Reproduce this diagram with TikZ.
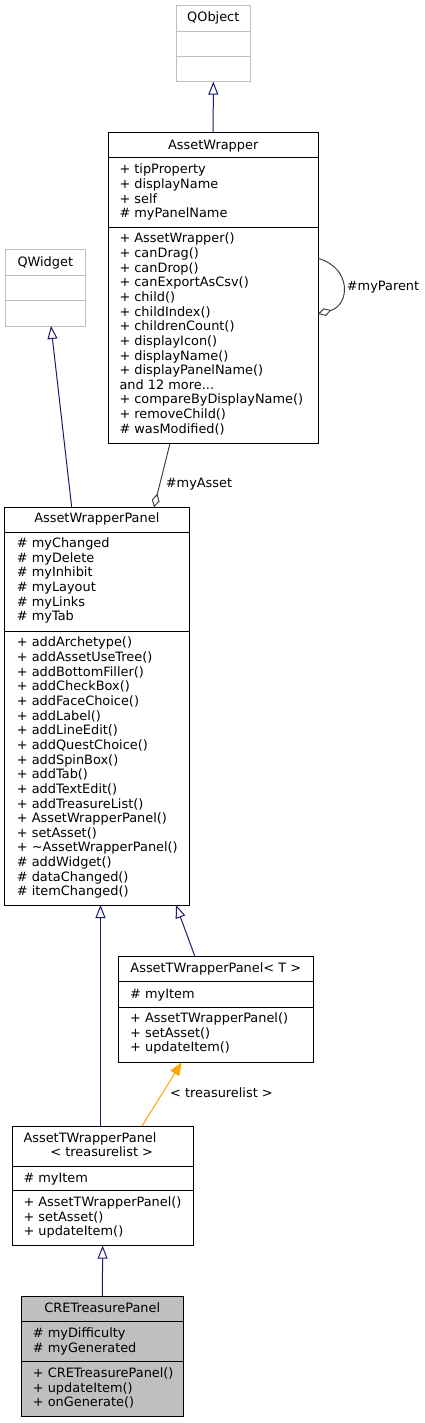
\documentclass[tikz,border=0pt]{standalone}
\usepackage{fontspec}
\setmainfont{DejaVu Sans}
\usetikzlibrary{arrows.meta,positioning,calc}
\definecolor{EdgeNavy}{HTML}{191970}
\definecolor{EdgeGray}{HTML}{404040}
\definecolor{EdgeOrange}{HTML}{FFA500}
\definecolor{BoxGray}{HTML}{BFBFBF}
\tikzset{
  classbox/.style={draw=black, line width=1pt, fill=white, anchor=north west,
    inner sep=0pt, outer sep=0pt},
  extbox/.style={classbox, draw=BoxGray},
  curbox/.style={classbox, fill=BoxGray},
  classrule/.style={line width=1pt, black},
  extrule/.style={line width=1pt, BoxGray},
  titletext/.style={anchor=base, inner sep=0pt, font=\fontsize{12.9}{14.64}\selectfont},
  membertext/.style={anchor=north west, yshift=10.25pt, align=left, inner sep=0pt,
    font=\fontsize{12.9}{14.64}\selectfont, execute at begin node=\strut},
  edgelabel/.style={anchor=west, inner sep=0pt, font=\fontsize{12.9}{14.64}\selectfont},
  inheritarrow/.style={-{Triangle[open, length=13pt, width=10pt]}, line width=1pt, EdgeNavy},
  aggrarrow/.style={-{Diamond[open, length=14pt, width=8pt]}, line width=1pt, EdgeGray},
  templarrow/.style={-{Triangle[length=13pt, width=10pt]}, line width=1pt, EdgeOrange},
}
\begin{document}
\begin{tikzpicture}[x=1pt, y=-1pt]
  \useasboundingbox (0,0) rectangle (425,1423);
  % ---- QObject ----
  \node[extbox, minimum width=74.7pt, minimum height=76pt] (qobj) at (176,5.7) {};
  \draw[extrule] (qobj.west |- 0,31.7) -- (qobj.east |- 0,31.7);
  \draw[extrule] (qobj.west |- 0,56.7) -- (qobj.east |- 0,56.7);
  \node[titletext] (qobjT) at (213.3,22) {QObject};
  % ---- AssetWrapper ----
  \node[classbox, minimum width=209.7pt, minimum height=310.6pt] (aw) at (108.3,132.7) {};
  \draw[classrule] (aw.west |- 0,158) -- (aw.east |- 0,158);
  \draw[classrule] (aw.west |- 0,227.3) -- (aw.east |- 0,227.3);
  \node[titletext] (awT) at (213.2,149.2) {AssetWrapper};
  \node[membertext] (awA) at (119.3,174.2) {+ tipProperty\\+ displayName\\+ self\\\# myPanelName};
  \node[membertext] (awM) at (119.3,243.2) {+ AssetWrapper()\\+ canDrag()\\+ canDrop()\\+ canExportAsCsv()\\+ child()\\+ childIndex()\\+ childrenCount()\\+ displayIcon()\\+ displayName()\\+ displayPanelName()\\and 12 more...\\+ compareByDisplayName()\\+ removeChild()\\\# wasModified()};
  % ---- QWidget ----
  \node[extbox, minimum width=79.3pt, minimum height=76.7pt] (qw) at (5.7,249.3) {};
  \draw[extrule] (qw.west |- 0,275) -- (qw.east |- 0,275);
  \draw[extrule] (qw.west |- 0,300.7) -- (qw.east |- 0,300.7);
  \node[titletext] (qwT) at (45.3,266.2) {QWidget};
  % ---- AssetWrapperPanel ----
  \node[classbox, minimum width=185pt, minimum height=397.7pt] (awp) at (4.3,507.3) {};
  \draw[classrule] (awp.west |- 0,532.7) -- (awp.east |- 0,532.7);
  \draw[classrule] (awp.west |- 0,631.7) -- (awp.east |- 0,631.7);
  \node[titletext] (awpT) at (96.8,522.8) {AssetWrapperPanel};
  \node[membertext] (awpA) at (16.7,547.8) {\# myChanged\\\# myDelete\\\# myInhibit\\\# myLayout\\\# myLinks\\\# myTab};
  \node[membertext] (awpM) at (16.7,647.2) {+ addArchetype()\\+ addAssetUseTree()\\+ addBottomFiller()\\+ addCheckBox()\\+ addFaceChoice()\\+ addLabel()\\+ addLineEdit()\\+ addQuestChoice()\\+ addSpinBox()\\+ addTab()\\+ addTextEdit()\\+ addTreasureList()\\+ AssetWrapperPanel()\\+ setAsset()\\+ \textasciitilde AssetWrapperPanel()\\\# addWidget()\\\# dataChanged()\\\# itemChanged()};
  % ---- AssetTWrapperPanel< T > ----
  \node[classbox, minimum width=195pt, minimum height=105.6pt] (atwpT) at (118.3,956.7) {};
  \draw[classrule] (atwpT.west |- 0,981.7) -- (atwpT.east |- 0,981.7);
  \draw[classrule] (atwpT.west |- 0,1007.3) -- (atwpT.east |- 0,1007.3);
  \node[titletext] (atwpTT) at (215.8,972.8) {AssetTWrapperPanel< T >};
  \node[membertext] (atwpTA) at (130,997.8) {\# myItem};
  \node[membertext] (atwpTM) at (130,1022.8) {+ AssetTWrapperPanel()\\+ setAsset()\\+ updateItem()};
  % ---- AssetTWrapperPanel< treasurelist > ----
  \node[classbox, minimum width=181.3pt, minimum height=119.7pt] (atwpTL) at (12,1126) {};
  \draw[classrule] (atwpTL.west |- 0,1166) -- (atwpTL.east |- 0,1166);
  \draw[classrule] (atwpTL.west |- 0,1190.7) -- (atwpTL.east |- 0,1190.7);
  \node[membertext] (atwpTLT) at (23.3,1141.8) {AssetTWrapperPanel};
  \node[titletext] (atwpTLT2) at (101.7,1156.2) {< treasurelist >};
  \node[membertext] (atwpTLA) at (23.3,1182.2) {\# myItem};
  \node[membertext] (atwpTLM) at (23.3,1206.8) {+ AssetTWrapperPanel()\\+ setAsset()\\+ updateItem()};
  % ---- CRETreasurePanel ----
  \node[curbox, minimum width=162.7pt, minimum height=119.3pt] (cre) at (21,1296.7) {};
  \draw[classrule] (cre.west |- 0,1321.7) -- (cre.east |- 0,1321.7);
  \draw[classrule] (cre.west |- 0,1361.7) -- (cre.east |- 0,1361.7);
  \node[titletext] (creT) at (102.3,1312.8) {CRETreasurePanel};
  \node[membertext] (creA) at (32.7,1337.8) {\# myDifficulty\\\# myGenerated};
  \node[membertext] (creM) at (32.7,1377.8) {+ CRETreasurePanel()\\+ updateItem()\\+ onGenerate()};
  % ---- edges ----
  \draw[inheritarrow] (aw.north) -- (qobj.south);
  \draw[inheritarrow] (awp.north -| 71.7,0) -- (qw.south -| 51,0);
  \draw[aggrarrow] (aw.south -| 170,0) -- (awp.north -| 154,0);
  \node[edgelabel] (lblAsset) at (165.7,484.3) {\#myAsset};
  \draw[aggrarrow] (aw.east |- 0,258.3) .. controls (352,268) and (350,305) .. (aw.east |- 0,314);
  \node[edgelabel] (lblParent) at (346.7,287) {\#myParent};
  \draw[inheritarrow] (atwpT.north -| 195,0) -- (awp.south -| 176,0);
  \draw[inheritarrow] (atwpTL.north -| 100.5,0) -- (awp.south -| 100.5,0);
  \draw[templarrow] (atwpTL.north -| 142,0) -- (atwpT.south -| 181.7,0);
  \node[edgelabel] (lblTreas) at (170,1092.3) {< treasurelist >};
  \draw[inheritarrow] (cre.north) -- (atwpTL.south);
\end{tikzpicture}
\end{document}
